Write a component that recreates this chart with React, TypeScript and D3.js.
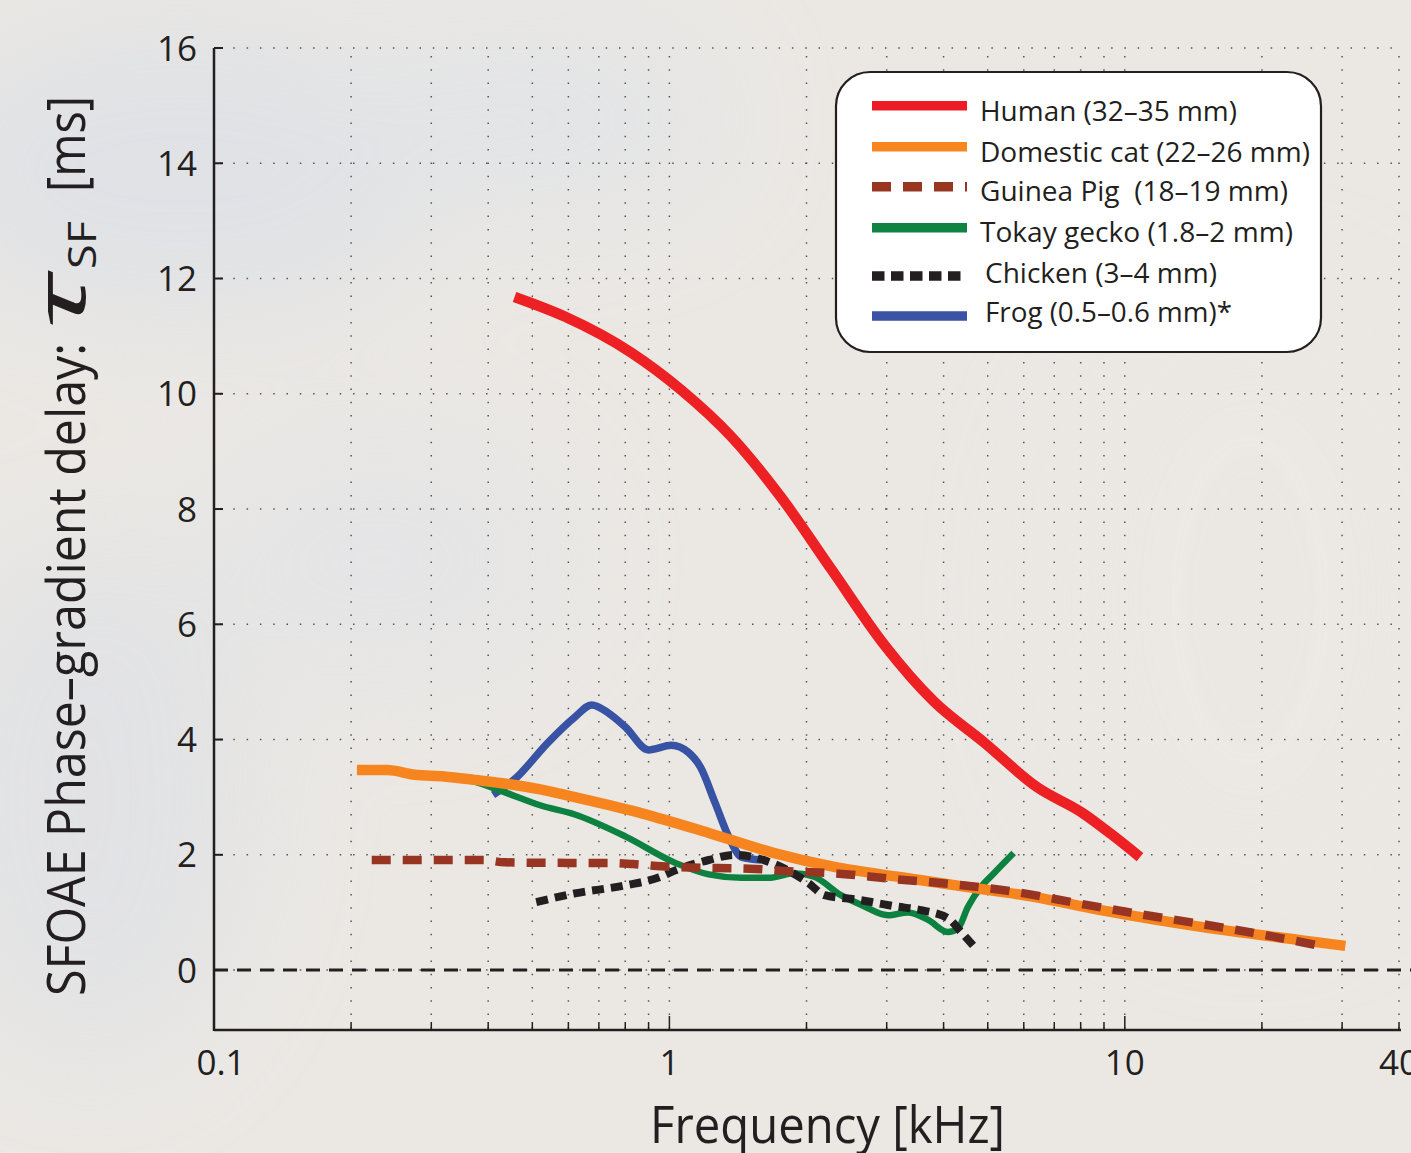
import React, { useEffect } from "react";
import * as d3 from "d3";

const W = 1411;
const H = 1153;

// data (frequency in kHz, delay in ms)
const humanF = [0.457, 0.589, 0.826, 1.06, 1.37, 1.76, 2.27, 2.96, 3.81, 4.91, 6.4, 8.1, 9.4, 10.8];
const humanT = [11.68, 11.34, 10.71, 10.07, 9.25, 8.2, 6.95, 5.65, 4.66, 3.95, 3.18, 2.72, 2.34, 1.96];

const catF = [0.206, 0.24, 0.276, 0.32, 0.374, 0.45, 0.524, 0.62, 0.87, 1.22, 1.7, 2.3, 3.23, 4.52, 6.31, 8.86, 14.7, 24.3, 30.5];
const catT = [3.47, 3.47, 3.39, 3.36, 3.3, 3.22, 3.13, 3.0, 2.72, 2.38, 2.03, 1.79, 1.61, 1.44, 1.27, 1.04, 0.75, 0.52, 0.42];

const pigF = [0.222, 0.39, 0.435, 0.6, 0.74, 0.83, 0.96, 1.28, 1.5, 1.79, 2.3, 3.1, 4.3, 5.7, 8.0, 10.8, 14.7, 19.6, 26.5];
const pigT = [1.91, 1.91, 1.87, 1.86, 1.86, 1.84, 1.8, 1.77, 1.76, 1.72, 1.68, 1.58, 1.48, 1.36, 1.15, 0.97, 0.8, 0.63, 0.43];

const geckoF = [0.3, 0.37, 0.44, 0.52, 0.62, 0.8, 1.03, 1.22, 1.44, 1.65, 1.88, 2.08, 2.38, 2.64, 3.02, 3.34, 3.7, 4.09, 4.3, 4.52, 4.83, 5.16, 5.7];
const geckoT = [3.4, 3.28, 3.07, 2.86, 2.7, 2.32, 1.86, 1.66, 1.6, 1.6, 1.68, 1.62, 1.3, 1.13, 0.95, 1.0, 0.87, 0.66, 0.72, 1.09, 1.44, 1.68, 2.03];

const chickenF = [0.51, 0.62, 0.8, 0.95, 1.03, 1.22, 1.39, 1.7, 2.02, 2.19, 2.6, 2.87, 3.11, 3.57, 4.09, 4.37, 4.7];
const chickenT = [1.18, 1.33, 1.47, 1.61, 1.73, 1.91, 2.0, 1.84, 1.51, 1.3, 1.22, 1.16, 1.11, 1.04, 0.9, 0.66, 0.38];

const frogF = [0.41, 0.46, 0.54, 0.62, 0.675, 0.735, 0.8, 0.9, 1.01, 1.1, 1.17, 1.26, 1.35, 1.44, 1.59];
const frogT = [3.04, 3.33, 3.94, 4.39, 4.6, 4.46, 4.22, 3.82, 3.9, 3.78, 3.52, 2.9, 2.31, 1.96, 1.91];

const xTickValues = [0.1, 1, 10, 40];
const xTickLabels = ["0.1", "1", "10", "40"];
const xGridValues = [0.2, 0.3, 0.4, 0.5, 0.6, 0.7, 0.8, 0.9, 1, 2, 3, 4, 5, 6, 7, 8, 9, 10, 20, 30, 40];
const yTickValues = [0, 2, 4, 6, 8, 10, 12, 14, 16];

const legendLabels = [
  "Human (32\u201335 mm)",
  "Domestic cat (22\u201326 mm)",
  "Guinea Pig \u00a0(18\u201319 mm)",
  "Tokay gecko (1.8\u20132 mm)",
  "Chicken (3\u20134 mm)",
  "Frog (0.5\u20130.6 mm)*",
];

const font = "'Open Sans', 'Noto Sans', sans-serif";

export default function App() {
  useEffect(() => {
    document.body.style.margin = "0";
  }, []);

  const x = d3.scaleLog().domain([0.1, 40]).range([214, 1399]);
  const y = d3.scaleLinear().domain([-1.04, 16]).range([1030, 48]);

  const line = d3
    .line<[number, number]>()
    .x((d) => x(d[0]))
    .y((d) => y(d[1]))
    .curve(d3.curveMonotoneX);

  const path = (f: number[], t: number[]) => line(f.map((v, i) => [v, t[i]] as [number, number])) || "";

  const series = [
    { f: frogF, t: frogT, color: "#3953a4", width: 7.5, dash: null },
    { f: geckoF, t: geckoT, color: "#0d8240", width: 6.5, dash: null },
    { f: chickenF, t: chickenT, color: "#231f20", width: 8, dash: "12,7" },
    { f: catF, t: catT, color: "#f6851f", width: 10.5, dash: null },
    { f: pigF, t: pigT, color: "#973522", width: 8.5, dash: "19,12" },
    { f: humanF, t: humanT, color: "#ed2024", width: 10.5, dash: null },
  ];

  const legend = [
    { color: "#ed1c24", dash: null, lineY: 105.7, textY: 120.7, tx: 980, len: 257 },
    { color: "#f7861f", dash: null, lineY: 146.7, textY: 161.7, tx: 980, len: 330 },
    { color: "#983622", dash: "19,12", lineY: 186.7, textY: 200.7, tx: 980, len: 308 },
    { color: "#0e8342", dash: null, lineY: 227.7, textY: 242, tx: 980, len: 313 },
    { color: "#231f20", dash: "12.5,6.5", lineY: 276, textY: 283, tx: 985, len: 232 },
    { color: "#3a53a4", dash: null, lineY: 316, textY: 322, tx: 985, len: 247 },
  ];

  const [x0, x1] = x.range();
  const [yb, yt] = y.range();

  return (
    <svg width={W} height={H} style={{ display: "block" }} fontFamily={font}>
      <defs>
        <filter id="blur" x="-50%" y="-50%" width="200%" height="200%">
          <feGaussianBlur stdDeviation="60" />
        </filter>
      </defs>
      <rect width={W} height={H} fill="#ebe8e4" />
      <g filter="url(#blur)" opacity={0.75}>
        <ellipse cx={180} cy={170} rx={260} ry={150} fill="#dde0e6" />
        <ellipse cx={520} cy={120} rx={200} ry={90} fill="#e0e3e8" />
        <ellipse cx={90} cy={800} rx={160} ry={260} fill="#dfe1e5" />
        <ellipse cx={380} cy={560} rx={180} ry={120} fill="#e3e4e7" />
        <ellipse cx={1250} cy={600} rx={200} ry={300} fill="#ece8e4" />
      </g>

      {/* dotted grid */}
      <g stroke="#555" strokeWidth={1.5} strokeDasharray="1.5,11.8" fill="none">
        {yTickValues.map((v) => (
          <line key={"h" + v} x1={x0 + 6} x2={x1 + 2} y1={y(v)} y2={y(v)} />
        ))}
        {xGridValues.map((v) => (
          <line key={"v" + v} x1={x(v)} x2={x(v)} y1={y(16) + 8} y2={yb} />
        ))}
      </g>

      {/* zero line */}
      <line x1={x0} x2={W} y1={y(0)} y2={y(0)} stroke="#231f20" strokeWidth={3} strokeDasharray="14,9" />

      {/* curves */}
      {series.map((s, i) => (
        <path
          key={i}
          d={path(s.f, s.t)}
          fill="none"
          stroke={s.color}
          strokeWidth={s.width}
          strokeDasharray={s.dash || undefined}
          strokeLinejoin="round"
        />
      ))}

      {/* axes */}
      <g stroke="#231f20" strokeWidth={2.5} fill="none">
        <line x1={x0} x2={x0} y1={yt} y2={yb + 1} />
        <line x1={x0} x2={x1 + 2} y1={yb} y2={yb} />
        {yTickValues.map((v) => (
          <line key={"yt" + v} x1={x0} x2={x0 + 9} y1={y(v)} y2={y(v)} strokeWidth={2} />
        ))}
        {xGridValues.map((v) => (
          <line
            key={"xt" + v}
            x1={x(v)}
            x2={x(v)}
            y1={yb}
            y2={yb - (v === 1 || v === 10 ? 14 : 8)}
            strokeWidth={1.5}
          />
        ))}
      </g>

      {/* tick labels */}
      <g fill="#231f20" fontSize={35}>
        {yTickValues.map((v) => (
          <text key={"yl" + v} x={197} y={y(v)} dy="0.36em" textAnchor="end">
            {v}
          </text>
        ))}
        {xTickValues.map((v, i) => (
          <text key={"xl" + v} x={x(v) + (i === 0 ? 7 : 0)} y={1075} textAnchor="middle">
            {xTickLabels[i]}
          </text>
        ))}
      </g>

      {/* axis titles */}
      <text x={650} y={1143} fontSize={52} fill="#231f20" textLength={355} lengthAdjust="spacingAndGlyphs">
        Frequency [kHz]
      </text>
      <g transform="translate(85,996) rotate(-90)" fill="#231f20">
        <text x={0} y={0} fontSize={53} textLength={653} lengthAdjust="spacingAndGlyphs">
          SFOAE Phase–gradient delay:
        </text>
        <text x={666} y={0} fontSize={70} fontStyle="italic" textLength={56} lengthAdjust="spacingAndGlyphs">
          τ
        </text>
        <text x={727} y={11} fontSize={38} textLength={48} lengthAdjust="spacingAndGlyphs">
          SF
        </text>
        <text x={804} y={0} fontSize={53} textLength={96} lengthAdjust="spacingAndGlyphs">
          [ms]
        </text>
      </g>

      {/* legend */}
      <rect x={836} y={72} width={485} height={280} rx={34} ry={34} fill="#ffffff" stroke="#231f20" strokeWidth={2.2} />
      {legend.map((l, i) => (
        <g key={"lg" + i}>
          <line
            x1={872}
            x2={967}
            y1={l.lineY}
            y2={l.lineY}
            stroke={l.color}
            strokeWidth={9.5}
            strokeDasharray={l.dash || undefined}
          />
          <text x={l.tx} y={l.textY} fontSize={28} fill="#231f20" textLength={l.len} lengthAdjust="spacingAndGlyphs">
            {legendLabels[i]}
          </text>
        </g>
      ))}
    </svg>
  );
}
